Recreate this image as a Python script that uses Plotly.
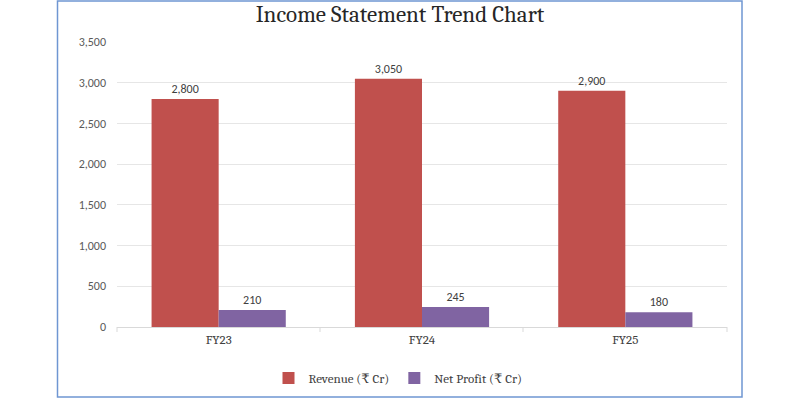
import plotly.graph_objects as go

categories = ["FY23", "FY24", "FY25"]
revenue = [2800, 3050, 2900]
net_profit = [210, 245, 180]
series_names = ["Revenue (₹ Cr)", "Net Profit (₹ Cr)"]
y_ticks = [0, 500, 1000, 1500, 2000, 2500, 3000, 3500]

serif = "Cambria, 'Liberation Serif', 'DejaVu Serif', serif"
sans = "Calibri, Carlito, 'Open Sans', 'Liberation Sans', sans-serif"

fig = go.Figure()
fig.add_trace(go.Bar(
    x=categories, y=revenue, name=series_names[0],
    marker=dict(color="#C0504D", line=dict(width=0)),
    text=[f"{v:,}" for v in revenue], textposition="outside",
    textfont=dict(family=sans, size=12, color="#404040"), cliponaxis=False,
))
fig.add_trace(go.Bar(
    x=categories, y=net_profit, name=series_names[1],
    marker=dict(color="#8064A2", line=dict(width=0)),
    text=[f"{v:,}" for v in net_profit], textposition="outside",
    textfont=dict(family=sans, size=12, color="#404040"), cliponaxis=False,
))

L, R, T, B = 117, 73, 42, 73
W, H = 800, 400
pw, ph = W - L - R, H - T - B

def px_x(x):
    return (x - L) / pw

def px_y(y):
    return (H - B - y) / ph

fig.update_layout(
    width=W, height=H,
    margin=dict(l=L, r=R, t=T, b=B, autoexpand=False),
    paper_bgcolor="white", plot_bgcolor="white",
    barmode="group", bargap=0.34, bargroupgap=0,
    title=dict(text="Income Statement Trend Chart", x=0.5, xanchor="center",
               y=1 - 14 / H, yanchor="middle",
               font=dict(family=serif, size=23, color="#262626")),
    xaxis=dict(showgrid=False, showline=True, linecolor="#D9D9D9", linewidth=1,
               ticks="", tickfont=dict(family=serif, size=13, color="#404040")),
    yaxis=dict(range=[0, 3500], tickvals=y_ticks, tickformat=",",
               showgrid=True, gridcolor="#E6E6E6", gridwidth=1,
               zeroline=False, showline=False, ticks="",
               ticklabelstandoff=10,
               tickfont=dict(family=sans, size=12, color="#595959")),
    legend=dict(orientation="h", x=px_x(398), xanchor="center", y=px_y(378), yanchor="middle",
                font=dict(family=serif, size=13, color="#404040"),
                itemwidth=30, traceorder="normal"),
    showlegend=True,
    shapes=[
        dict(type="rect", xref="paper", yref="paper",
             x0=px_x(57.5), x1=px_x(742), y0=px_y(397), y1=px_y(1),
             line=dict(color="#6F96D2", width=1.5), fillcolor="rgba(0,0,0,0)", layer="below"),
    ] + [
        dict(type="line", xref="paper", yref="paper",
             x0=px_x(xp), x1=px_x(xp), y0=0, y1=px_y(332),
             line=dict(color="#D9D9D9", width=1))
        for xp in [117, 320, 523, 727]
    ],
)

fig.write_html("out.html")
